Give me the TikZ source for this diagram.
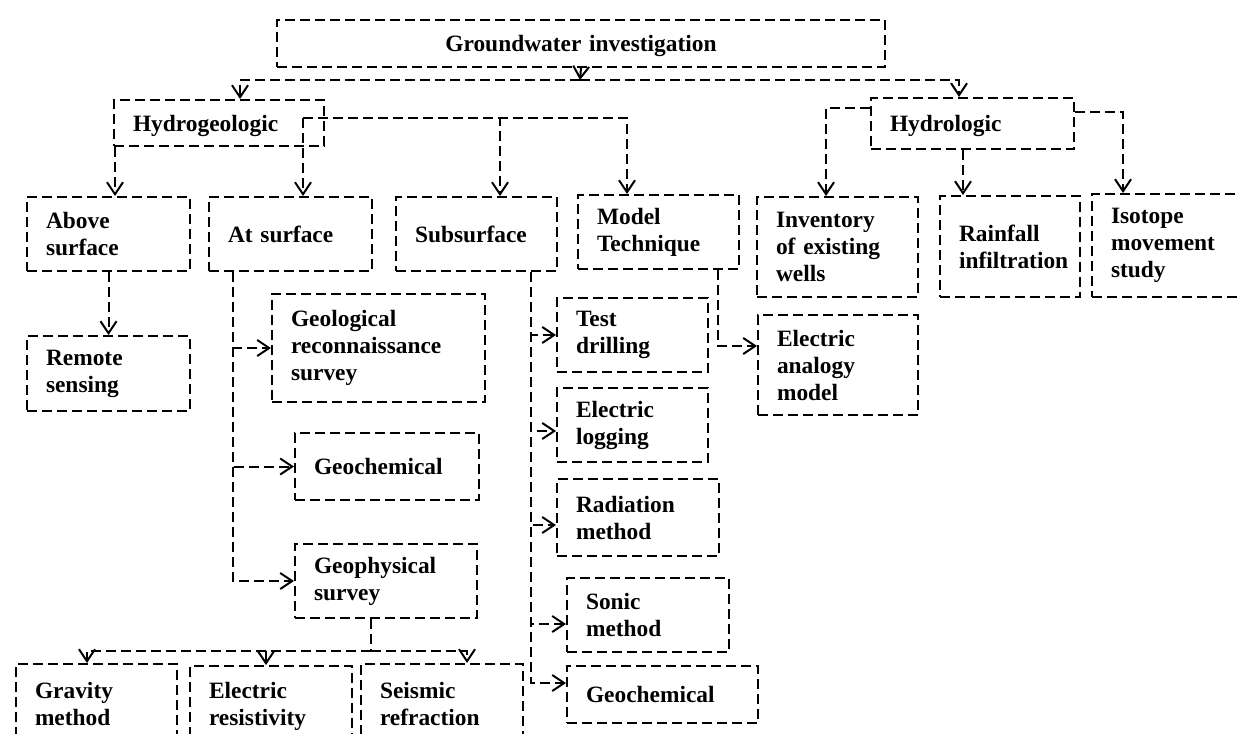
\documentclass[tikz,border=0pt]{standalone}
\usepackage{fontspec}
\setmainfont{Liberation Serif}
\usetikzlibrary{arrows.meta}

\tikzset{
  box/.style={draw,line width=1pt,dash pattern=on 5pt off 2.5pt,
    anchor=north west,align=left,inner xsep=9.5pt,inner ysep=0pt,
    font=\bfseries\fontsize{11.7}{13.5}\selectfont},
  link/.style={line width=1pt,dash pattern=on 5pt off 2.5pt},
  conn/.style={link,-{Straight Barb[length=6pt,width=8pt]}}
}

\begin{document}
\begin{tikzpicture}[x=0.5pt,y=-0.5pt]
\useasboundingbox (0,0) rectangle (1240,733);
\clip (0,0) rectangle (1240,733);

\node[box,align=center,text width=285pt,minimum height=23.5pt,text depth=0pt] (gw) at (276,19) {Groundwater investigation};
\node[box,text width=86pt,minimum height=23pt,text depth=0pt] (hgeo) at (113,99) {Hydrogeologic};
\node[box,text width=82.5pt,minimum height=25.5pt,text depth=0pt] (hlog) at (870,97) {Hydrologic};

\node[box,text width=62.5pt,minimum height=37pt] (above) at (26,196) {Above\\surface};
\node[box,text width=62.5pt,minimum height=37pt] (atsurf) at (208,196) {At surface};
\node[box,text width=61.5pt,minimum height=37pt] (subsurf) at (395,196) {Subsurface};
\node[box,text width=61.5pt,minimum height=37pt] (model) at (577,194) {Model\\Technique};
\node[box,text width=61.5pt,minimum height=50pt] (invent) at (756,196) {Inventory\\of existing\\wells};
\node[box,text width=51pt,minimum height=50.5pt] (rain) at (939,195) {Rainfall\\infiltration};
\node[box,text width=66pt,minimum height=51.5pt] (isotope) at (1091,193) {Isotope\\movement\\study};

\node[box,text width=62.5pt,minimum height=37.5pt] (remote) at (26,335) {Remote\\sensing};
\node[box,text width=87.5pt,minimum height=54pt] (geolog) at (271,293) {Geological\\reconnaissance\\survey};
\node[box,text width=73pt,minimum height=33.5pt] (geochemA) at (294,432) {Geochemical};
\node[box,text width=72pt,minimum height=37pt] (geophys) at (294,543) {Geophysical\\survey};

\node[box,text width=56.5pt,minimum height=37pt] (testdr) at (556,297) {Test\\drilling};
\node[box,text width=56.5pt,minimum height=37pt] (elog) at (556,387) {Electric\\logging};
\node[box,text width=62pt,minimum height=38.5pt] (radia) at (556,478) {Radiation\\method};
\node[box,text width=62pt,minimum height=37pt] (sonic) at (566,577) {Sonic\\method};
\node[box,text width=76.5pt,minimum height=28.5pt] (geochemB) at (566,665) {Geochemical};
\node[box,text width=61pt,minimum height=50pt] (eanalog) at (757,314) {Electric\\analogy\\model};

\node[box,text width=61.5pt,minimum height=40pt] (gravity) at (15,663) {Gravity\\method};
\node[box,text width=62pt,minimum height=40pt] (eres) at (189,665) {Electric\\resistivity};
\node[box,text width=62pt,minimum height=40pt] (seismic) at (360,663) {Seismic\\refraction};

% main split
\coordinate (bus) at (580,80);
\draw[conn] (gw.south) -- (bus);
\draw[conn] (bus) -| (hgeo.north -| 240,0);
\draw[conn] (bus) -| (hlog.north -| 959,0);

% hydrogeologic branch
\draw[conn] (hgeo.south -| 115,0) -- (above.north -| 115,0);
\coordinate (hgbus) at (303,118);
\draw[conn] (hgbus) -- (atsurf.north -| hgbus);
\draw[conn] (hgbus) -| (subsurf.north -| 500,0);
\draw[conn] (hgbus) -| (model.north -| 627,0);

% hydrologic branch
\draw[conn] (hlog.west |- 0,108) -| (invent.north -| 826,0);
\draw[conn] (hlog.south -| 963,0) -- (rain.north -| 963,0);
\draw[conn] (hlog.east |- 0,112) -| (isotope.north -| 1123,0);

\draw[conn] (above.south) -- (remote.north);

\coordinate (asl) at (atsurf.south -| 233,0);
\foreach \nm in {geolog,geochemA,geophys}
{
  \draw[conn] (asl) |- (\nm.west);
}

\coordinate (ssl) at (subsurf.south -| 531,0);
\foreach \nm/\yy in {testdr/335,elog/431,radia/525,sonic/624,geochemB/683}
{
  \draw[conn] (ssl) |- (\nm.west |- 0,\yy);
}

\draw[conn] (model.south -| 718,0) |- (eanalog.west |- 0,346);

\coordinate (gpbus) at (371,651);
\draw[link] (geophys.south -| gpbus) -- (gpbus);
\foreach \nm/\xx in {gravity/87,eres/266,seismic/467}
{
  \draw[conn] (gpbus) -| (\nm.north -| \xx,0);
}
\end{tikzpicture}
\end{document}
